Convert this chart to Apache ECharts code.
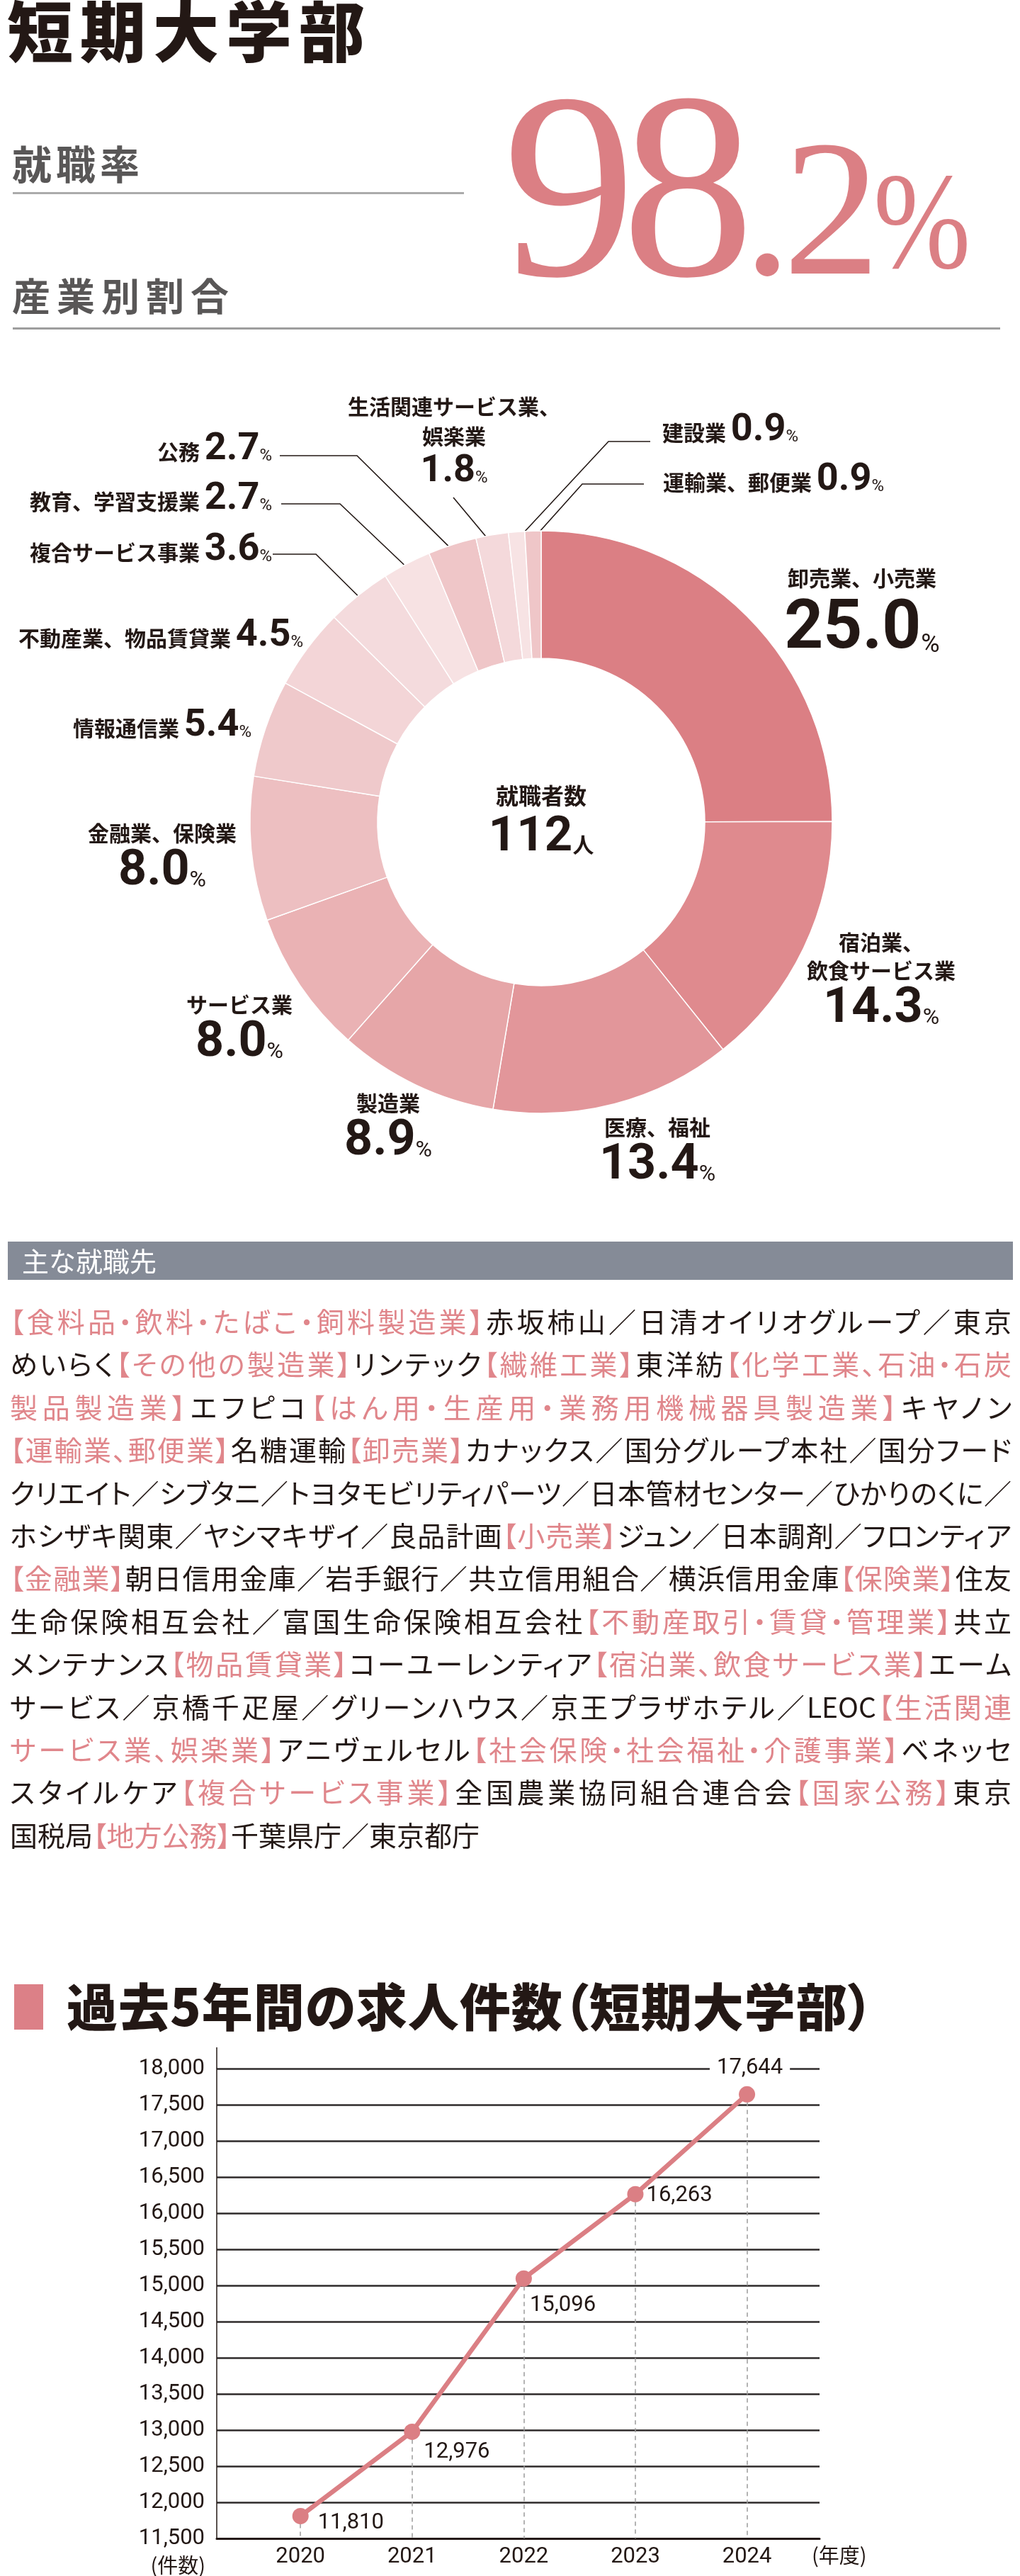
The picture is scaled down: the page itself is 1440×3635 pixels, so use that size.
<!DOCTYPE html>
<html><head><meta charset="utf-8">
<script src="https://cdn.jsdelivr.net/npm/echarts@6/dist/echarts.min.js"></script>
<style>
html,body{margin:0;padding:0;background:#fff;}
body{width:1440px;height:3635px;position:relative;overflow:hidden;font-family:'Noto Sans CJK JP',sans-serif;color:#231815;}
.abs{position:absolute;white-space:nowrap;line-height:1;}
.serif{font-family:'Liberation Serif','DejaVu Serif',serif;color:#db7f84;}
#chart{position:absolute;left:0;top:0;width:1440px;height:3635px;}
#list{position:absolute;left:14px;top:1833px;width:1414px;font-size:39px;line-height:60.4px;font-feature-settings:"palt";color:#231815;}
#list div{text-align:justify;text-align-last:justify;white-space:nowrap;}
#list div.last{text-align:left;text-align-last:left;}
.pk{color:#e0868b;}
</style></head>
<body>
<div id="chart"></div>
<div id="hdr"></div>
<div id="list"></div>
<script>
// ---------- data ----------
const pageTitle = '短期大学部';
const rateLabel = '就職率';
const shareLabel = '産業別割合';
const employmentRate = ['98', '.2', '%'];
const industries = ['卸売業、小売業','宿泊業、飲食サービス業','医療、福祉','製造業','サービス業','金融業、保険業','情報通信業','不動産業、物品賃貸業','複合サービス事業','教育、学習支援業','公務','生活関連サービス業、娯楽業','建設業','運輸業、郵便業'];
const shares = [25.0,14.3,13.4,8.9,8.0,8.0,5.4,4.5,3.6,2.7,2.7,1.8,0.9,0.9];
const employedLabel = '就職者数';
const employedTotal = 112;
const listHeading = '主な就職先';
const employerLines = [
 '{【食料品・飲料・たばこ・飼料製造業】}赤坂柿山／日清オイリオグループ／東京',
 'めいらく{【その他の製造業】}リンテック{【繊維工業】}東洋紡{【化学工業、石油・石炭}',
 '{製品製造業】}エフピコ{【はん用・生産用・業務用機械器具製造業】}キヤノン',
 '{【運輸業、郵便業】}名糖運輸{【卸売業】}カナックス／国分グループ本社／国分フード',
 'クリエイト／シブタニ／トヨタモビリティパーツ／日本管材センター／ひかりのくに／',
 'ホシザキ関東／ヤシマキザイ／良品計画{【小売業】}ジュン／日本調剤／フロンティア',
 '{【金融業】}朝日信用金庫／岩手銀行／共立信用組合／横浜信用金庫{【保険業】}住友',
 '生命保険相互会社／富国生命保険相互会社{【不動産取引・賃貸・管理業】}共立',
 'メンテナンス{【物品賃貸業】}コーユーレンティア{【宿泊業、飲食サービス業】}エーム',
 'サービス／京橋千疋屋／グリーンハウス／京王プラザホテル／LEOC{【生活関連}',
 '{サービス業、娯楽業】}アニヴェルセル{【社会保険・社会福祉・介護事業】}ベネッセ',
 'スタイルケア{【複合サービス事業】}全国農業協同組合連合会{【国家公務】}東京',
 '国税局{【地方公務】}千葉県庁／東京都庁'
];
const lineTitle = '過去5年間の求人件数（短期大学部）';
const years = [2020,2021,2022,2023,2024];
const jobOffers = [11810,12976,15096,16263,17644];
const yMin = 11500, yMax = 18000, yInterval = 500;
const yUnit = '(件数)', xUnit = '(年度)';

// ---------- styles / layout ----------
const TXT = '#231815', PINK = '#db7f84';
const CJK = "'Noto Sans CJK JP','Noto Sans CJK SC',sans-serif";
const NUM = "Roboto,'Liberation Sans',sans-serif";
const sliceColors = ['#db7f84','#df8a8e','#e2969a','#e6a6a8','#eab2b4','#edbfc1','#efc9cb','#f3d5d7','#f4dbdd','#f7e2e3','#efc6c8','#f4d9db','#f7e3e4','#efc6c8'];
const PIE_C = [764,1160], R_IN = 231, R_OUT = 411;
const labelSpecs = [
 {kind:'big', x:1217, y:786, align:'center', va:'top'},
 {kind:'block', lines:['宿泊業、','飲食サービス業'], x:1244, y:1310, align:'center', va:'top'},
 {kind:'block', x:928, y:1571, align:'center', va:'top'},
 {kind:'block', x:548, y:1537, align:'center', va:'top'},
 {kind:'block', x:338, y:1398, align:'center', va:'top'},
 {kind:'block', x:229, y:1156, align:'center', va:'top'},
 {kind:'inline', x:355, y:1052, align:'right', va:'bottom'},
 {kind:'inline', x:428, y:925, align:'right', va:'bottom'},
 {kind:'inline', x:384, y:804, align:'right', va:'bottom', elbow:[446,782], end:[385,782]},
 {kind:'inline', x:384, y:732, align:'right', va:'bottom', elbow:[480,711], end:[397,711]},
 {kind:'inline', x:384, y:662, align:'right', va:'bottom', elbow:[504,643], end:[395,643]},
 {kind:'stack', lines:['生活関連サービス業、','娯楽業'], x:641, y:553, align:'center', va:'top', elbow:[640,702], end:[640,702], r:395},
 {kind:'inline', x:935, y:635, align:'left', va:'bottom', elbow:[859,623], end:[918,623]},
 {kind:'inline', x:936, y:705, align:'left', va:'bottom', elbow:[822,683], end:[909,683]}
];
const offerLabelPlace = [
 {position:'right', offset:[8,10]},
 {position:'right', offset:[0,29]},
 {position:'right', offset:[-8,38]},
 {position:'right', offset:[-1,2]},
 {position:'top', offset:[4,-5], backgroundColor:'#fff', padding:[0,10]}
];

// ---------- HTML text parts ----------
const hdr = document.getElementById('hdr');
hdr.innerHTML =
 `<div class="abs" style="left:10px;top:-7px;font-size:93px;font-weight:900;letter-spacing:10px;color:${TXT}">${pageTitle}</div>`+
 `<div class="abs" style="left:17px;top:201px;font-size:56px;font-weight:700;letter-spacing:6px;color:#595757">${rateLabel}</div>`+
 `<div style="position:absolute;left:18px;top:271px;width:637px;height:3px;background:#ababab"></div>`+
 `<div class="abs" style="left:17px;top:389px;font-size:54px;font-weight:700;letter-spacing:9px;color:#595757">${shareLabel}</div>`+
 `<div style="position:absolute;left:18px;top:462px;width:1394px;height:3px;background:#9e9e9e"></div>`+
 `<div class="abs serif" style="left:710px;top:74px;font-size:375px;letter-spacing:-20px">${employmentRate[0]}</div>`+
 `<div class="abs serif" style="left:1049px;top:157px;font-size:274px;letter-spacing:-12px">${employmentRate[1]}</div>`+
 `<div class="abs serif" style="left:1233px;top:215px;font-size:194px;transform:scaleX(0.85);transform-origin:0 0">${employmentRate[2]}</div>`+
 `<div style="position:absolute;left:11px;top:1752px;width:1419px;height:54px;background:#858b97"></div>`+
 `<div class="abs" style="left:31px;top:1759px;font-size:38px;color:#fff">${listHeading}</div>`+
 `<div style="position:absolute;left:20px;top:2800px;width:41px;height:64px;background:#dc8087"></div>`+
 `<div class="abs" style="left:94px;top:2792px;font-size:72px;font-weight:900;letter-spacing:1px;font-feature-settings:'palt';color:${TXT}">${lineTitle}</div>`;

const list = document.getElementById('list');
list.innerHTML = employerLines.map((ln,i)=>{
  const html = ln.replace(/\{([^}]*)\}/g, '<span class="pk">$1</span>');
  return `<div${i===employerLines.length-1?' class="last"':''}>${html}</div>`;
}).join('');

// ---------- chart ----------
const total = shares.reduce((a,b)=>a+b,0);
function sliceAnchor(i, r){
  let cum = 0; for (let k=0;k<i;k++) cum += shares[k];
  const t = (cum + shares[i]/2)/total*2*Math.PI;
  return [PIE_C[0] + r*Math.sin(t), PIE_C[1] - r*Math.cos(t)];
}
function tok(ff, fw, fs, lh, h){
  const o = {fontFamily:ff, fontWeight:fw, fontSize:fs, lineHeight:lh, color:TXT};
  if (h != null){ o.height = h; o.verticalAlign = 'bottom'; }
  return o;
}
function fmtLabel(p){
  const i = p.dataIndex, s = labelSpecs[i], v = shares[i].toFixed(1);
  if (s.kind==='big') return `{ab|${industries[i]}}\n{b|${v}}{bp|%}`;
  if (s.kind==='block') return (s.lines||[industries[i]]).map(t=>`{a|${t}}`).join('\n') + `\n{v|${v}}{vp|%}`;
  if (s.kind==='stack') return s.lines.map(t=>`{m|${t}}`).join('\n') + `\n{s|${v}}{sp|%}`;
  return `{i|${industries[i]} }{s|${v}}{sp|%}`;
}

const chart = echarts.init(document.getElementById('chart'));
const option = {
  animation:false,
  grid:{left:306, top:2919, width:851, height:663, containLabel:false},
  xAxis:{type:'value', min:2019.25, max:2024.65,
    axisLine:{show:true, onZero:false, lineStyle:{color:TXT, width:3}},
    axisTick:{show:false}, splitLine:{show:false},
    axisLabel:{customValues:years, formatter:v=>String(Math.round(v)), fontFamily:NUM, fontSize:31, color:TXT, margin:11}},
  yAxis:{type:'value', min:yMin, max:yMax, interval:yInterval,
    axisLine:{show:true, onZero:false, lineStyle:{color:TXT, width:1.5}},
    axisTick:{show:false},
    splitLine:{show:true, lineStyle:{color:'#2e2a2a', width:2.5}},
    axisLabel:{formatter:v=>v.toLocaleString('en-US'), fontFamily:NUM, fontSize:31, color:TXT, margin:17}},
  series:[
    {type:'pie', center:PIE_C, radius:[R_IN,R_OUT], startAngle:90, clockwise:true,
     avoidLabelOverlap:false, silent:true,
     itemStyle:{borderColor:'#fff', borderWidth:1.5},
     data: industries.map((n,i)=>({name:n, value:shares[i], itemStyle:{color:sliceColors[i]},
        labelLine:{show: !!labelSpecs[i].elbow}})),
     label:{show:true, position:'outside', alignTo:'none', formatter:fmtLabel, color:TXT,
       rich:{
         ab: tok(CJK,'bold',30,60),
         b: tok(NUM,'bold',96,90,91.6), bp: tok(NUM,'normal',36,90,50.6),
         a: tok(CJK,'bold',30,40),
         v: tok(NUM,'bold',70,70,71.9), vp: tok(NUM,'normal',32,70,45.9),
         i: tok(CJK,'bold',30,56,49.2), s: tok(NUM,'bold',54,56,55.9), sp: tok(NUM,'normal',24,56,35.4),
         m: tok(CJK,'bold',30,42)
       }},
     labelLine:{show:true, length:10, length2:10, lineStyle:{color:TXT, width:1.6}},
     labelLayout: function(params){
       const i = params.dataIndex, s = labelSpecs[i];
       const out = {x:s.x, y:s.y, align:s.align, verticalAlign:s.va, hideOverlap:false, moveOverlap:false};
       if (s.elbow) out.labelLinePoints = [sliceAnchor(i, s.r||400), s.elbow, s.end];
       return out;
     }
    },
    {type:'line', z:3,
     data: years.map((y,i)=>({value:[y, jobOffers[i]], label:offerLabelPlace[i]})),
     symbol:'circle', symbolSize:23,
     lineStyle:{color:PINK, width:6.5}, itemStyle:{color:PINK},
     label:{show:true, formatter:p=>p.value[1].toLocaleString('en-US'), fontFamily:NUM, fontSize:31, color:TXT},
     markLine:{silent:true, z:1, symbol:['none','none'], label:{show:false},
       lineStyle:{type:[6,5], color:'#9a9a9a', width:1.5},
       data: years.map((y,i)=>[{coord:[y, jobOffers[i]]},{coord:[y, yMin]}])}
    }
  ],
  graphic:[
    {type:'line', shape:{x1:306,y1:2889,x2:306,y2:2919}, style:{stroke:TXT, lineWidth:1.5}},
    {type:'text', x:290, y:3620, style:{text:yUnit, fontFamily:CJK, fontSize:29, fill:TXT, align:'right', textAlign:'right', verticalAlign:'middle', textVerticalAlign:'middle'}},
    {type:'text', x:1146, y:3606, style:{text:xUnit, fontFamily:CJK, fontSize:29, fill:TXT, align:'left', textAlign:'left', verticalAlign:'middle', textVerticalAlign:'middle'}},
    {type:'text', x:764, y:1099, style:{
      text:`{c1|${employedLabel}}\n{c2|${employedTotal}}{c3|人}`,
      align:'center', textAlign:'center', verticalAlign:'top', textVerticalAlign:'top', fill:TXT,
      rich:{
        c1:{fontFamily:CJK, fontWeight:'bold', fontSize:32, lineHeight:48, fill:TXT, color:TXT},
        c2:{fontFamily:NUM, fontWeight:'bold', fontSize:69, lineHeight:66, height:60.6, verticalAlign:'bottom', fill:TXT, color:TXT},
        c3:{fontFamily:CJK, fontWeight:'bold', fontSize:30, lineHeight:66, height:43.6, verticalAlign:'bottom', fill:TXT, color:TXT}
      }}}
  ]
};
chart.setOption(option);
</script>
</body></html>
